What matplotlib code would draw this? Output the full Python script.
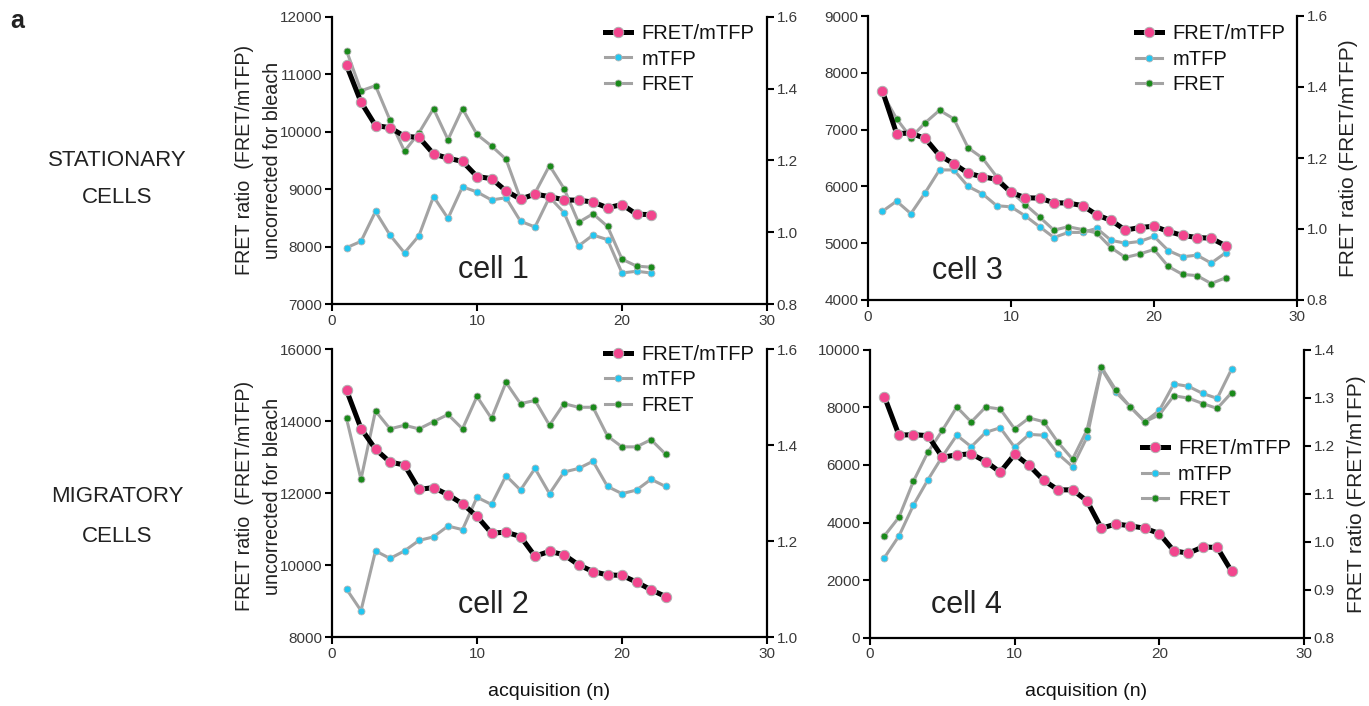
import matplotlib
matplotlib.use('Agg')
import matplotlib.pyplot as plt

plt.rcParams['font.family'] = ['Liberation Sans', 'DejaVu Sans']

# ---- data ----
# cell 1 (stationary)
c1_mtfp = [7980, 8090, 8610, 8200, 7890, 8190, 8870, 8490, 9040, 8950, 8810,
           8850, 8440, 8340, 8860, 8590, 8010, 8200, 8120, 7540, 7570, 7540]
c1_fret = [11410, 10710, 10800, 10200, 9660, 9980, 10400, 9860, 10400, 9950, 9750,
           9520, 8830, 8930, 9410, 9010, 8420, 8570, 8350, 7780, 7660, 7640]
c1_ratio = [1.465, 1.362, 1.297, 1.291, 1.267, 1.264, 1.218, 1.206, 1.197, 1.155, 1.149,
            1.115, 1.092, 1.106, 1.099, 1.090, 1.089, 1.084, 1.068, 1.077, 1.050, 1.049]

# cell 3 (stationary)
c3_mtfp = [5560, 5740, 5520, 5890, 6290, 6290, 6000, 5870, 5660, 5640, 5480, 5290, 5100,
           5190, 5190, 5260, 5050, 5000, 5030, 5120, 4870, 4760, 4790, 4650, 4830]
c3_fret = [7640, 7190, 6860, 7120, 7340, 7190, 6680, 6500, 6170, 5910, 5680, 5460, 5230,
           5290, 5240, 5180, 4920, 4750, 4810, 4890, 4590, 4450, 4430, 4290, 4390]
c3_ratio = [1.390, 1.269, 1.270, 1.255, 1.207, 1.184, 1.157, 1.147, 1.140, 1.103, 1.088,
            1.087, 1.074, 1.073, 1.066, 1.040, 1.024, 0.997, 1.004, 1.008, 0.993, 0.982,
            0.976, 0.974, 0.953]

# cell 2 (migratory)
c2_mtfp = [9340, 8740, 10400, 10190, 10400, 10690, 10790, 11090, 10990, 11890, 11690, 12490,
           12090, 12690, 11990, 12590, 12690, 12890, 12190, 11990, 12090, 12390, 12190]
c2_fret = [14080, 12390, 14290, 13790, 13890, 13790, 13990, 14190, 13790, 14690, 14080, 15080,
           14490, 14580, 13890, 14490, 14390, 14390, 13590, 13290, 13290, 13490, 13090]
c2_ratio = [1.515, 1.435, 1.392, 1.365, 1.359, 1.308, 1.312, 1.297, 1.278, 1.252, 1.217, 1.219,
            1.210, 1.169, 1.179, 1.172, 1.151, 1.137, 1.130, 1.129, 1.115, 1.099, 1.085]

# cell 4 (migratory)
c4_mtfp = [2780, 3530, 4600, 5480, 6290, 7030, 6630, 7130, 7290, 6610, 7060, 7030, 6380,
           5940, 6960, 9340, 8520, 8010, 7500, 7890, 8810, 8730, 8480, 8310, 9330]
c4_fret = [3540, 4180, 5430, 6440, 7200, 8010, 7490, 8010, 7940, 7250, 7630, 7500, 6780,
           6200, 7210, 9390, 8600, 8010, 7500, 7740, 8400, 8320, 8130, 7960, 8510]
c4_ratio = [1.302, 1.222, 1.223, 1.221, 1.176, 1.181, 1.183, 1.167, 1.145, 1.182, 1.159, 1.128,
            1.108, 1.108, 1.085, 1.028, 1.037, 1.033, 1.028, 1.017, 0.981, 0.976, 0.989,
            0.988, 0.938]

PINK = '#F2468E'
CYAN = '#22C6F0'
GREEN = '#1A8A1A'
GRAY = '#A3A3A3'
TXT = '#3a3a3a'

fig = plt.figure(figsize=(13.69, 7.06), dpi=100)
W, H = 1369, 706


def make_axes(x0, x1, ytop, ybot):
    return fig.add_axes([x0 / W, 1 - ybot / H, (x1 - x0) / W, (ybot - ytop) / H])


panels = [
    dict(box=(332, 767, 16.7, 304), ylim=(7000, 12000), yticks=range(7000, 12001, 1000),
         rlim=(0.8, 1.6), rticks=[0.8, 1.0, 1.2, 1.4, 1.6],
         data=(c1_mtfp, c1_fret, c1_ratio), name='cell 1', cpos=(0.37, 0.09),
         leg=(0.628, 0.975), rlabel=False),
    dict(box=(868, 1297, 16, 300), ylim=(4000, 9000), yticks=range(4000, 9001, 1000),
         rlim=(0.8, 1.6), rticks=[0.8, 1.0, 1.2, 1.4, 1.6],
         data=(c3_mtfp, c3_fret, c3_ratio), name='cell 3', cpos=(0.231, 0.074),
         leg=(0.625, 0.972), rlabel=True),
    dict(box=(332, 767, 349.3, 637.3), ylim=(8000, 16000), yticks=range(8000, 16001, 2000),
         rlim=(1.0, 1.6), rticks=[1.0, 1.2, 1.4, 1.6],
         data=(c2_mtfp, c2_fret, c2_ratio), name='cell 2', cpos=(0.372, 0.084),
         leg=(0.628, 1.016), rlabel=False),
    dict(box=(870, 1304, 349.7, 637.7), ylim=(0, 10000), yticks=range(0, 10001, 2000),
         rlim=(0.8, 1.4), rticks=[0.8, 0.9, 1.0, 1.1, 1.2, 1.3, 1.4],
         data=(c4_mtfp, c4_fret, c4_ratio), name='cell 4', cpos=(0.222, 0.086),
         leg=(0.626, 0.69), rlabel=True),
]

for p in panels:
    ax = make_axes(*p['box'])
    ax2 = ax.twinx()
    mtfp, fret, ratio = p['data']
    n = list(range(1, len(ratio) + 1))

    l1, = ax.plot(n, mtfp, color=GRAY, lw=2.2, marker='o', ms=5, mfc=CYAN,
                  mec='#B5B5B5', mew=0.6, label='mTFP')
    l2, = ax.plot(n, fret, color=GRAY, lw=2.2, marker='o', ms=5, mfc=GREEN,
                  mec='#B5B5B5', mew=0.6, label='FRET')
    l0, = ax2.plot(n, ratio, color='black', lw=3.6, marker='o', ms=7.5, mfc=PINK,
                   mec='#B0B0B0', mew=0.7, label='FRET/mTFP')

    ax.set_xlim(0, 30)
    ax.set_xticks([0, 10, 20, 30])
    ax.set_ylim(*p['ylim'])
    ax.set_yticks(list(p['yticks']))
    ax2.set_ylim(*p['rlim'])
    ax2.set_yticks(p['rticks'])
    ax2.set_yticklabels(['%.1f' % v for v in p['rticks']])

    for a in (ax, ax2):
        a.spines['top'].set_visible(False)
        for s in ('left', 'right', 'bottom'):
            a.spines[s].set_linewidth(1.6)
        a.tick_params(direction='out', length=5, width=1.5, labelsize=11,
                      labelcolor=TXT, pad=2)
    ax.spines['right'].set_visible(False)
    ax2.spines['left'].set_visible(False)
    ax2.spines['bottom'].set_visible(False)

    ax.text(p['cpos'][0], p['cpos'][1], p['name'], transform=ax.transAxes,
            fontsize=22, color='#222222', ha='center', va='baseline')

    leg = ax2.legend(handles=[l0, l1, l2], loc='upper left', bbox_to_anchor=p['leg'],
                     frameon=False, fontsize=14.5, borderpad=0, borderaxespad=0,
                     handlelength=1.3, handletextpad=0.5, labelspacing=0.33)
    for t in leg.get_texts():
        t.set_color('#111111')

    if p['rlabel']:
        x1 = p['box'][1]
        yc = (p['box'][2] + p['box'][3]) / 2
        fig.text((x1 + 52) / W, 1 - yc / H, 'FRET ratio (FRET/mTFP)', rotation=90,
                 ha='center', va='center', fontsize=15, color='#222222')

# left y labels, two lines each
for yc in (160, 496):
    fig.text(244 / W, 1 - yc / H, 'FRET ratio  (FRET/mTFP)', rotation=90,
             ha='center', va='center', fontsize=14.2, color='#222222')
    fig.text(272 / W, 1 - yc / H, 'uncorrected for bleach', rotation=90,
             ha='center', va='center', fontsize=14.2, color='#222222')

for xc in (549, 1086):
    fig.text(xc / W, 1 - 692 / H, 'acquisition (n)', ha='center', va='center',
             fontsize=14, color='#111111')

# row labels
row_labels = [('STATIONARY', 160), ('CELLS', 198), ('MIGRATORY', 497), ('CELLS', 536)]
for txt, yc in row_labels:
    fig.text(117 / W, 1 - yc / H, txt, ha='center', va='center',
             fontsize=16, color='#222222')

fig.text(17 / W, 1 - 21 / H, 'a', ha='center', va='center', fontsize=18,
         fontweight='bold', color='#222222')

fig.savefig('out.png', dpi=100)
